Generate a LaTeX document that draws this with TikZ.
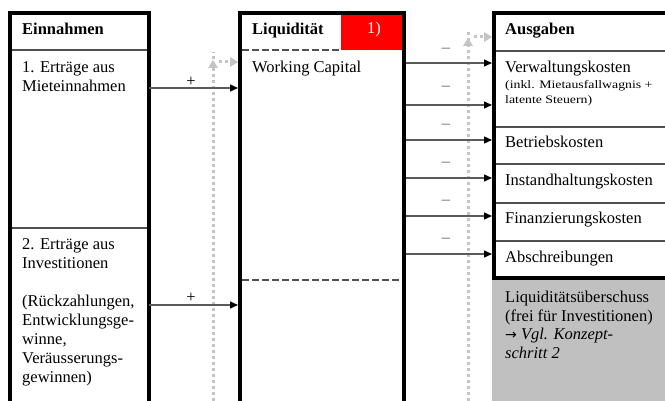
\documentclass[tikz,border=0pt]{standalone}
\usepackage{fontspec}
\setmainfont{Liberation Serif}
\newfontfamily\widesmall[FakeStretch=1.2]{Liberation Serif}
\newfontfamily\arrowfont{DejaVu Sans}
\usetikzlibrary{arrows.meta}
\definecolor{panelgray}{RGB}{192,192,192}
\definecolor{dotgray}{RGB}{196,196,196}
\definecolor{rulegray}{RGB}{80,80,80}
\definecolor{flowgray}{RGB}{90,90,90}
\definecolor{signgray}{RGB}{100,100,100}
\begin{document}
\begin{tikzpicture}[x=1pt,y=-1pt,
  frame/.style={line width=4pt,line join=miter},
  rowrule/.style={line width=1.4pt,rulegray},
  splitrule/.style={line width=1.2pt,rulegray,dash pattern=on 7pt off 3pt},
  flow/.style={line width=1.3pt,flowgray,-{Triangle[length=8pt,width=7pt,color=black,fill=black]}},
  feedback/.style={line width=3pt,dotgray,dash pattern=on 3pt off 3pt},
  txt/.style={anchor=base west,inner sep=0pt,align=left,font=\fontsize{16.5}{19}\selectfont},
  head/.style={txt,font=\fontsize{16.5}{19}\selectfont\bfseries},
  note/.style={anchor=base west,inner sep=0pt,align=left,font=\fontsize{11.5}{15}\widesmall},
  sign/.style={anchor=base,inner sep=0pt,font=\fontsize{16.5}{19}\selectfont}]
\useasboundingbox (0,0) rectangle (665,401);

% fills
\fill[red] (341,13) rectangle (404,50);
\fill[panelgray] (492,278) rectangle (665,401);

% inner rules of the three columns
\draw[rowrule] (10,50) -- (149,50);
\draw[rowrule] (10,228) -- (149,228);
\draw[splitrule] (242,50) -- (341,50);
\draw[splitrule] (242,280) -- (402,280);
\foreach \yy in {51,127,164,203,241}
  \draw[rowrule] (494,\yy) -- (665,\yy);

% column frames (open at the bottom)
\draw[frame] (10,401) -- (10,13) -- (149,13) -- (149,401);
\draw[frame] (240,401) -- (240,13) -- (404,13) -- (404,401);
\draw[frame] (670,13) -- (494,13) -- (494,278) -- (670,278);

% connector end points
\coordinate (inA) at (149,88);
\coordinate (inB) at (149,305);
\coordinate (liqA) at (238,88);
\coordinate (liqB) at (238,305);
\foreach \yy/\nm in {63/a,105/b,140/c,178/d,216/e,254/f}{
  \coordinate (out\nm) at (406,\yy);
  \coordinate (exp\nm) at (492,\yy);
}
\coordinate (fbLbot) at (213,401);
\coordinate (fbLtop) at (213,60);
\coordinate (fbLstart) at (219,62);
\coordinate (fbLend) at (238,62);
\coordinate (fbRbot) at (468,401);
\coordinate (fbRtop) at (468,38);
\coordinate (fbRstart) at (474,37);
\coordinate (fbRend) at (492,37);

% feedback loops
\draw[feedback] (fbLbot) -- ([yshift=8pt]fbLtop);
\fill[dotgray] (fbLtop) -- ++(-5,8) -- ++(10,0) -- cycle;
\draw[feedback] (fbLstart) -- ([xshift=-7pt]fbLend);
\fill[dotgray] (fbLend) -- ++(-8,-5) -- ++(0,10) -- cycle;
\draw[feedback] (fbRbot) -- ([yshift=8pt]fbRtop);
\fill[dotgray] (fbRtop) -- ++(-5,8) -- ++(10,0) -- cycle;
\draw[feedback] (fbRstart) -- ([xshift=-7pt]fbRend);
\fill[dotgray] (fbRend) -- ++(-8,-5) -- ++(0,10) -- cycle;

% inflows
\draw[flow] (inA) -- (liqA);
\draw[flow] (inB) -- (liqB);
\node[sign] (plusA) at (191,87) {+};
\node[sign] (plusB) at (191,302) {+};

% outflows
\foreach \nm in {a,b,c,d,e,f}
  \draw[flow] (out\nm) -- (exp\nm);
\foreach \yy/\nm in {53/a,91/b,129/c,167/d,205/e,243/f}
  \node[sign,signgray] (minus\nm) at (446,\yy) {–};

% Einnahmen column (multi-line nodes sit on their last baseline)
\node[head] (einH) at (22,35) {Einnahmen};
\node[txt] (ein1) at (22,92) {1. Erträge aus\\Mieteinnahmen};
\node[txt] (ein2) at (22,382) {2. Erträge aus\\Investitionen\\[19pt](Rückzahlungen,\\Entwicklungsge-\\winne,\\Veräusserungs-\\gewinnen)};

% Liquidität column
\node[head] (liqH) at (252,35) {Liquidität};
\node[anchor=base,inner sep=0pt,white,font=\fontsize{16.5}{19}\selectfont] (liqN) at (374,34) {1)};
\node[txt] (liqW) at (252,73) {Working Capital};

% Ausgaben column
\node[head] (ausH) at (505,35) {Ausgaben};
\node[txt] (aus1) at (505,73) {Verwaltungskosten};
\node[note] (aus1n) at (505,104) {(inkl. Mietausfallwagnis +\\latente Steuern)};
\node[txt] (aus2) at (505,148) {Betriebskosten};
\node[txt] (aus3) at (505,186) {Instandhaltungskosten};
\node[txt] (aus4) at (505,224) {Finanzierungskosten};
\node[txt] (aus5) at (505,262) {Abschreibungen};
\node[anchor=base west,inner sep=0pt,align=left,font=\fontsize{16.5}{18.5}\selectfont] (surplus) at (505,358.5)
  {Liquiditätsüberschuss\\(frei für Investitionen)\\{\arrowfont\fontsize{14}{18.5}\selectfont →} \textit{Vgl. Konzept-}\\\textit{schritt 2}};
\end{tikzpicture}
\end{document}
